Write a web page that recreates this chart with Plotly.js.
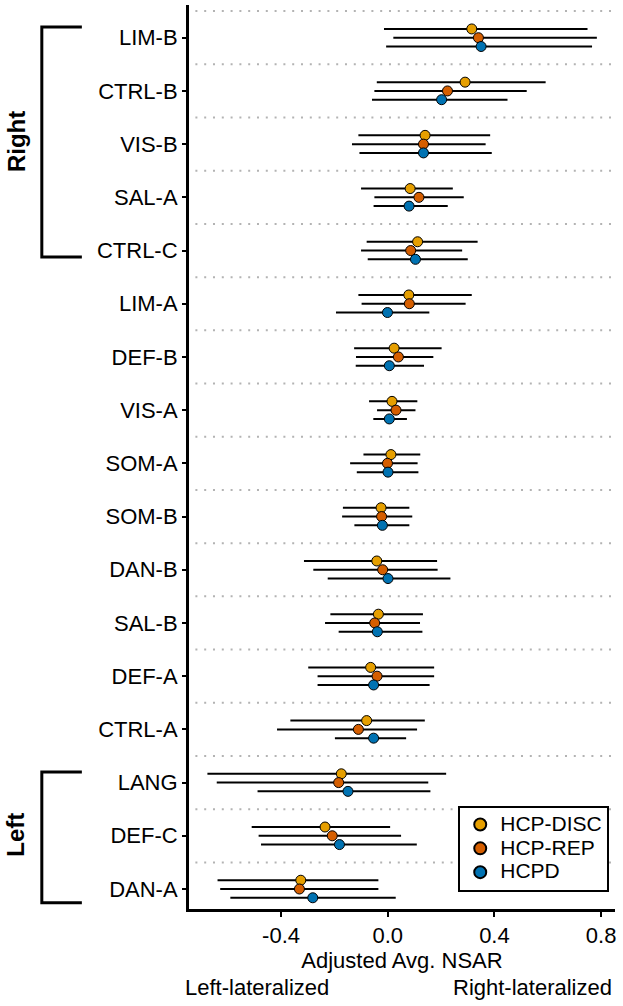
<!DOCTYPE html>
<html><head><meta charset="utf-8">
<script src="https://cdn.plot.ly/plotly-3.0.1.min.js"></script>
<style>html,body{margin:0;padding:0;background:#fff}#chart{width:623px;height:1006px}</style>
</head><body><div id="chart"></div>
<script>
// ---- data ----
const categories = ['LIM-B','CTRL-B','VIS-B','SAL-A','CTRL-C','LIM-A','DEF-B','VIS-A','SOM-A','SOM-B','DAN-B','SAL-B','DEF-A','CTRL-A','LANG','DEF-C','DAN-A'];
const seriesNames = ['HCP-DISC','HCP-REP','HCPD'];

const discEst = [0.315, 0.290, 0.140, 0.084, 0.112, 0.079, 0.024, 0.016, 0.012, -0.025, -0.041, -0.035, -0.064, -0.079, -0.174, -0.235, -0.326];
const discLo  = [-0.014, -0.041, -0.110, -0.100, -0.079, -0.110, -0.126, -0.070, -0.091, -0.168, -0.314, -0.215, -0.298, -0.365, -0.676, -0.510, -0.638];
const discHi  = [0.749, 0.592, 0.384, 0.244, 0.337, 0.315, 0.202, 0.111, 0.122, 0.081, 0.185, 0.132, 0.174, 0.139, 0.219, 0.009, -0.035];

const repEst = [0.340, 0.224, 0.134, 0.117, 0.086, 0.081, 0.040, 0.031, -0.001, -0.023, -0.019, -0.049, -0.040, -0.110, -0.184, -0.208, -0.331];
const repLo  = [0.021, -0.050, -0.134, -0.050, -0.100, -0.098, -0.119, -0.040, -0.141, -0.171, -0.279, -0.235, -0.263, -0.415, -0.641, -0.484, -0.628];
const repHi  = [0.784, 0.521, 0.367, 0.285, 0.279, 0.292, 0.171, 0.104, 0.112, 0.092, 0.187, 0.121, 0.174, 0.110, 0.152, 0.050, -0.035];

const hcpdEst = [0.350, 0.202, 0.134, 0.080, 0.104, -0.001, 0.006, 0.006, 0.001, -0.020, 0.001, -0.039, -0.053, -0.053, -0.149, -0.181, -0.281];
const hcpdLo  = [-0.006, -0.059, -0.106, -0.053, -0.075, -0.194, -0.120, -0.054, -0.116, -0.125, -0.225, -0.184, -0.263, -0.198, -0.488, -0.475, -0.590];
const hcpdHi  = [0.766, 0.449, 0.390, 0.225, 0.300, 0.156, 0.136, 0.072, 0.115, 0.081, 0.235, 0.130, 0.157, 0.069, 0.160, 0.109, 0.030];

const xTickVals = [-0.4, 0.0, 0.4, 0.8];
const xTickText = ['-0.4', '0.0', '0.4', '0.8'];

const groupLabels = ['Right', 'Left'];
const groupFirst  = ['LIM-B', 'LANG'];
const groupLast   = ['CTRL-C', 'DAN-A'];

const xTitle = 'Adjusted Avg. NSAR';
const leftNote = 'Left-lateralized';
const rightNote = 'Right-lateralized';

// ---- styling ----
const colors = ['#E69F00', '#D55E00', '#0072B2'];
const dodge = [0.165, 0, -0.165];
const N = categories.length;
const pos = c => N - 1 - categories.indexOf(c);
const FONT = 'Liberation Sans, Arial, sans-serif';
const FS = 22;

const series = [
  {est: discEst, lo: discLo, hi: discHi},
  {est: repEst, lo: repLo, hi: repHi},
  {est: hcpdEst, lo: hcpdLo, hi: hcpdHi}
];

const traces = series.map((s, k) => ({
  type: 'scatter',
  mode: 'markers',
  name: '<span style="font-size:21px">' + seriesNames[k] + '</span>',
  x: s.est,
  y: categories.map((c, i) => N - 1 - i + dodge[k]),
  error_x: {
    type: 'data', symmetric: false,
    array: s.hi.map((h, i) => h - s.est[i]),
    arrayminus: s.lo.map((l, i) => s.est[i] - l),
    color: '#000', thickness: 2, width: 0
  },
  marker: {color: colors[k], size: 10, line: {color: '#000', width: 1}},
  hoverinfo: 'x'
}));

const shapes = [];
// dotted separators between categories (and above the top one)
for (let i = 0; i < N; i++) {
  shapes.push({
    type: 'line', xref: 'paper', yref: 'y', layer: 'below',
    x0: 0.015, x1: 1, y0: i + 0.5, y1: i + 0.5,
    line: {color: '#b3b3b3', width: 2, dash: '2px,6.8px'}
  });
}
// group brackets
const bracketTopPad = [0.2, 0.2];
const bracketBotPad = [0.12, 0.26];
const bx0 = -0.3455, bx1 = -0.2515;
const annotations = [];
groupLabels.forEach((g, k) => {
  const yt = pos(groupFirst[k]) + bracketTopPad[k];
  const yb = pos(groupLast[k]) - bracketBotPad[k];
  shapes.push({
    type: 'path', xref: 'paper', yref: 'y',
    path: `M ${bx1} ${yt} L ${bx0} ${yt} L ${bx0} ${yb} L ${bx1} ${yb}`,
    line: {color: '#000', width: 3}
  });
  annotations.push({
    text: '<b>' + g + '</b>', xref: 'paper', yref: 'y',
    x: -0.406, y: (yt + yb) / 2 + (k === 1 ? 0.05 : 0),
    textangle: -90, showarrow: false, xanchor: 'center', yanchor: 'middle',
    font: {family: FONT, size: 24, color: '#000'}
  });
});
annotations.push({
  text: leftNote, xref: 'paper', yref: 'paper', x: -0.014, y: -0.087,
  xanchor: 'left', yanchor: 'middle', showarrow: false,
  font: {family: FONT, size: FS, color: '#000'}
});
annotations.push({
  text: rightNote, xref: 'paper', yref: 'paper', x: 0.997, y: -0.087,
  xanchor: 'right', yanchor: 'middle', showarrow: false,
  font: {family: FONT, size: FS, color: '#000'}
});

const layout = {
  width: 623, height: 1006,
  margin: {l: 189, r: 8, t: 5, b: 97},
  paper_bgcolor: '#fff', plot_bgcolor: '#fff',
  font: {family: FONT, color: '#000'},
  showlegend: true,
  legend: {
    x: 0.632, y: 0.1143, xanchor: 'left', yanchor: 'top',
    bordercolor: '#000', borderwidth: 2, bgcolor: '#fff',
    font: {family: FONT, size: 16, color: '#000'},
    itemsizing: 'constant',
    tracegroupgap: 0
  },
  xaxis: {
    range: [-0.745, 0.852],
    tickmode: 'array', tickvals: xTickVals, ticktext: xTickText,
    ticks: 'outside', ticklen: 5, tickwidth: 2, tickcolor: '#000',
    showline: true, linewidth: 3, linecolor: '#000',
    showgrid: false, zeroline: false,
    tickfont: {family: FONT, size: FS, color: '#000'},
    title: {text: xTitle, font: {family: FONT, size: FS, color: '#000'}, standoff: 6}
  },
  yaxis: {
    range: [-0.376, 16.615],
    tickmode: 'array',
    tickvals: categories.map((c, i) => N - 1 - i),
    ticktext: categories,
    ticks: 'outside', ticklen: 4, tickwidth: 2, tickcolor: '#000',
    showline: true, linewidth: 3, linecolor: '#000',
    showgrid: false, zeroline: false,
    tickfont: {family: FONT, size: FS, color: '#000'}
  },
  shapes: shapes,
  annotations: annotations
};

Plotly.newPlot('chart', traces, layout, {displayModeBar: false, staticPlot: true});
</script>
</body></html>
